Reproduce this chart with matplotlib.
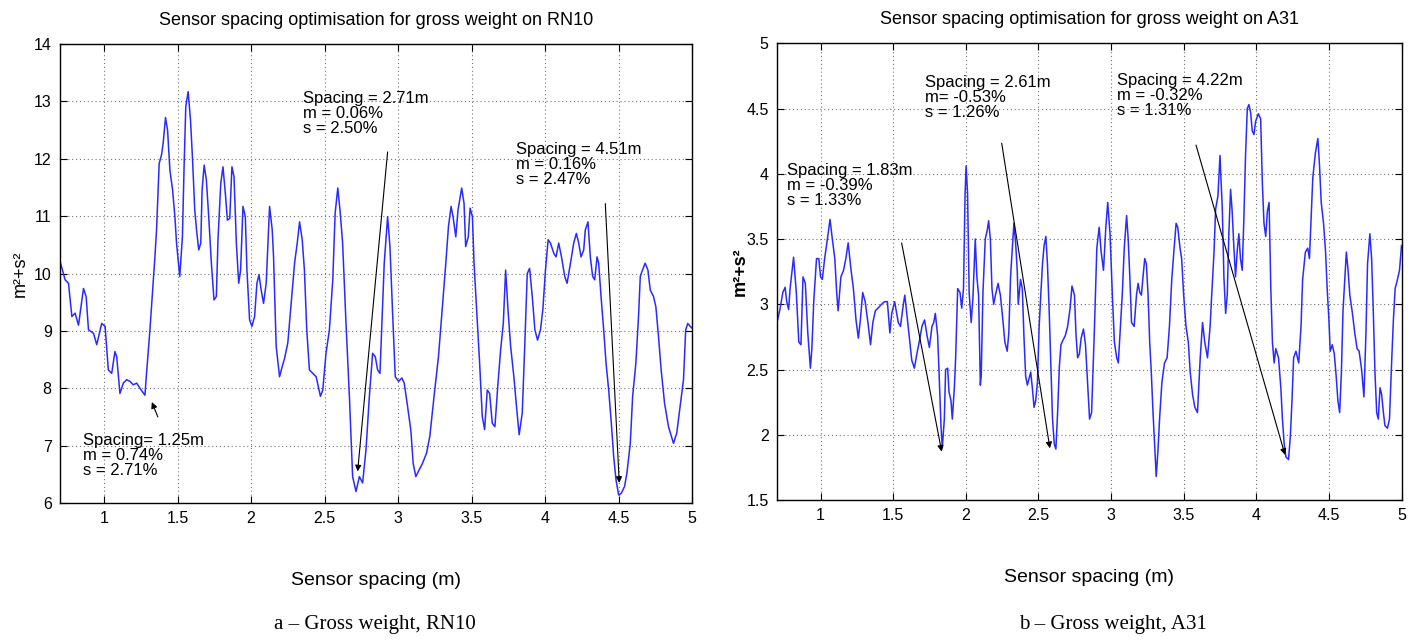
import matplotlib
matplotlib.use("Agg")
import matplotlib.pyplot as plt

# ---- data ----
x_rn10 = [0.701, 0.735, 0.758, 0.781, 0.803, 0.826, 0.860, 0.878, 0.894, 0.928,
          0.950, 0.984, 1.007, 1.029, 1.052, 1.074, 1.086, 1.108, 1.131, 1.154,
          1.176, 1.199, 1.222, 1.244, 1.278, 1.289, 1.312, 1.334, 1.346, 1.357,
          1.375, 1.391, 1.402, 1.418, 1.432, 1.448, 1.466, 1.482, 1.493, 1.515,
          1.533, 1.545, 1.556, 1.572, 1.588, 1.601, 1.617, 1.629, 1.644, 1.658,
          1.667, 1.681, 1.696, 1.712, 1.730, 1.748, 1.764, 1.775, 1.794, 1.809,
          1.827, 1.839, 1.855, 1.870, 1.884, 1.900, 1.916, 1.929, 1.945, 1.961,
          1.972, 1.990, 2.006, 2.024, 2.040, 2.054, 2.069, 2.085, 2.103, 2.126,
          2.144, 2.153, 2.171, 2.194, 2.212, 2.228, 2.250, 2.273, 2.296, 2.314,
          2.330, 2.348, 2.363, 2.379, 2.397, 2.420, 2.443, 2.472, 2.488, 2.510,
          2.533, 2.556, 2.572, 2.590, 2.605, 2.623, 2.646, 2.669, 2.691, 2.714,
          2.737, 2.759, 2.782, 2.805, 2.827, 2.845, 2.861, 2.877, 2.890, 2.906,
          2.929, 2.945, 2.963, 2.981, 3.004, 3.026, 3.042, 3.065, 3.087, 3.103,
          3.121, 3.144, 3.166, 3.194, 3.216, 3.245, 3.275, 3.302, 3.325, 3.343,
          3.361, 3.374, 3.393, 3.408, 3.433, 3.449, 3.460, 3.478, 3.490, 3.506,
          3.517, 3.539, 3.555, 3.573, 3.589, 3.607, 3.623, 3.641, 3.659, 3.680,
          3.698, 3.716, 3.732, 3.748, 3.766, 3.788, 3.806, 3.824, 3.845, 3.861,
          3.879, 3.895, 3.913, 3.931, 3.949, 3.969, 3.985, 4.003, 4.021, 4.037,
          4.060, 4.075, 4.093, 4.112, 4.134, 4.150, 4.173, 4.195, 4.213, 4.229,
          4.245, 4.263, 4.274, 4.292, 4.308, 4.324, 4.338, 4.354, 4.365, 4.381,
          4.399, 4.415, 4.433, 4.451, 4.467, 4.483, 4.501, 4.519, 4.541, 4.557,
          4.580, 4.596, 4.618, 4.636, 4.648, 4.663, 4.681, 4.700, 4.716, 4.738,
          4.754, 4.772, 4.790, 4.813, 4.840, 4.874, 4.896, 4.919, 4.942, 4.957,
          4.971, 4.987, 5.000]
y_rn10 = [10.21, 9.89, 9.83, 9.25, 9.31, 9.10, 9.74, 9.60, 9.02, 8.96,
          8.76, 9.13, 9.08, 8.32, 8.26, 8.64, 8.55, 7.91, 8.09, 8.15,
          8.12, 8.06, 8.09, 8.00, 7.88, 8.26, 9.02, 9.83, 10.29, 10.76,
          11.92, 12.07, 12.27, 12.72, 12.50, 11.80, 11.46, 10.99, 10.53, 9.95,
          10.64, 11.92, 12.91, 13.17, 12.68, 12.04, 11.11, 10.76, 10.41, 10.53,
          11.46, 11.89, 11.63, 10.99, 10.18, 9.54, 9.60, 10.59, 11.57, 11.86,
          11.34, 10.93, 10.96, 11.86, 11.69, 10.53, 9.83, 10.06, 11.17, 10.99,
          10.06, 9.19, 9.08, 9.25, 9.83, 9.98, 9.71, 9.48, 9.83, 11.17,
          10.76, 10.29, 8.73, 8.20, 8.38, 8.52, 8.79, 9.48, 10.18, 10.53,
          10.90, 10.59, 10.06, 9.02, 8.32, 8.26, 8.20, 7.86, 7.97, 8.61,
          9.02, 9.89, 11.05, 11.49, 11.11, 10.53, 9.13, 7.86, 6.46, 6.20,
          6.46, 6.35, 6.93, 7.86, 8.61, 8.55, 8.32, 8.26, 9.13, 10.18,
          10.99, 10.47, 9.31, 8.20, 8.12, 8.18, 8.09, 7.68, 7.27, 6.69,
          6.46, 6.58, 6.69, 6.87, 7.16, 7.86, 8.55, 9.42, 10.18, 10.82,
          11.17, 10.99, 10.64, 11.11, 11.49, 11.22, 10.47, 10.64, 11.14, 10.99,
          10.18, 9.19, 8.44, 7.51, 7.28, 7.97, 7.91, 7.39, 7.33, 8.09,
          8.67, 9.13, 10.06, 9.37, 8.73, 8.20, 7.68, 7.19, 7.57, 8.67,
          10.00, 10.09, 9.60, 9.02, 8.84, 9.02, 9.37, 10.06, 10.59, 10.53,
          10.35, 10.29, 10.53, 10.29, 9.95, 9.83, 10.18, 10.53, 10.70, 10.53,
          10.29, 10.41, 10.76, 10.90, 10.29, 9.95, 9.89, 10.29, 10.18, 9.60,
          9.02, 8.44, 7.97, 7.39, 6.81, 6.40, 6.14, 6.17, 6.29, 6.52,
          7.04, 7.86, 8.44, 9.25, 9.95, 10.06, 10.18, 10.06, 9.71, 9.60,
          9.42, 8.90, 8.32, 7.74, 7.33, 7.04, 7.22, 7.68, 8.15, 9.02,
          9.13, 9.08, 9.05]

x_a31 = [0.700, 0.720, 0.740, 0.756, 0.767, 0.780, 0.790, 0.814, 0.833, 0.850,
         0.865, 0.879, 0.895, 0.912, 0.930, 0.940, 0.953, 0.972, 0.988, 1.000,
         1.012, 1.028, 1.047, 1.065, 1.081, 1.098, 1.112, 1.121, 1.140, 1.158,
         1.174, 1.190, 1.210, 1.226, 1.244, 1.260, 1.274, 1.290, 1.307, 1.326,
         1.344, 1.360, 1.377, 1.395, 1.420, 1.440, 1.460, 1.477, 1.490, 1.510,
         1.535, 1.550, 1.570, 1.580, 1.600, 1.616, 1.628, 1.646, 1.663, 1.679,
         1.698, 1.716, 1.733, 1.749, 1.767, 1.779, 1.790, 1.806, 1.815, 1.829,
         1.838, 1.852, 1.861, 1.875, 1.884, 1.898, 1.907, 1.921, 1.930, 1.944,
         1.960, 1.972, 1.984, 1.995, 2.002, 2.012, 2.023, 2.037, 2.049, 2.065,
         2.076, 2.088, 2.100, 2.106, 2.118, 2.134, 2.148, 2.157, 2.169, 2.180,
         2.192, 2.204, 2.222, 2.238, 2.255, 2.269, 2.285, 2.296, 2.308, 2.319,
         2.331, 2.343, 2.354, 2.361, 2.377, 2.389, 2.400, 2.412, 2.424, 2.435,
         2.447, 2.458, 2.470, 2.481, 2.493, 2.505, 2.516, 2.528, 2.539, 2.551,
         2.562, 2.574, 2.586, 2.597, 2.609, 2.620, 2.632, 2.644, 2.655, 2.667,
         2.685, 2.701, 2.718, 2.731, 2.748, 2.759, 2.770, 2.782, 2.794, 2.810,
         2.824, 2.840, 2.852, 2.866, 2.886, 2.902, 2.918, 2.932, 2.948, 2.964,
         2.977, 2.993, 3.009, 3.023, 3.039, 3.050, 3.061, 3.077, 3.091, 3.107,
         3.118, 3.130, 3.141, 3.159, 3.175, 3.186, 3.198, 3.209, 3.220, 3.232,
         3.243, 3.255, 3.266, 3.277, 3.289, 3.300, 3.311, 3.323, 3.334, 3.350,
         3.368, 3.386, 3.402, 3.418, 3.432, 3.448, 3.459, 3.475, 3.486, 3.500,
         3.516, 3.532, 3.545, 3.561, 3.577, 3.595, 3.614, 3.630, 3.645, 3.664,
         3.682, 3.693, 3.709, 3.720, 3.736, 3.750, 3.766, 3.777, 3.789, 3.800,
         3.811, 3.823, 3.834, 3.845, 3.857, 3.868, 3.880, 3.891, 3.903, 3.914,
         3.926, 3.938, 3.949, 3.961, 3.972, 3.984, 3.995, 4.014, 4.030, 4.042,
         4.053, 4.065, 4.076, 4.088, 4.100, 4.111, 4.123, 4.134, 4.153, 4.169,
         4.180, 4.192, 4.204, 4.222, 4.234, 4.245, 4.257, 4.273, 4.292, 4.308,
         4.319, 4.338, 4.354, 4.366, 4.377, 4.389, 4.407, 4.424, 4.435, 4.447,
         4.463, 4.477, 4.488, 4.500, 4.509, 4.523, 4.537, 4.550, 4.562, 4.574,
         4.586, 4.597, 4.609, 4.620, 4.632, 4.644, 4.662, 4.678, 4.694, 4.708,
         4.725, 4.741, 4.755, 4.766, 4.782, 4.794, 4.806, 4.817, 4.829, 4.840,
         4.852, 4.863, 4.875, 4.886, 4.903, 4.917, 4.933, 4.944, 4.956, 4.972,
         4.986, 5.000]
y_a31 = [2.86, 2.96, 3.09, 3.13, 3.02, 2.96, 3.12, 3.36, 3.09, 2.71,
         2.69, 3.21, 3.16, 2.78, 2.51, 2.66, 3.02, 3.35, 3.35, 3.21,
         3.19, 3.35, 3.50, 3.65, 3.50, 3.35, 3.07, 2.95, 3.21, 3.26,
         3.35, 3.47, 3.26, 3.12, 2.88, 2.74, 2.88, 3.09, 3.02, 2.86,
         2.69, 2.86, 2.95, 2.97, 3.00, 3.02, 3.02, 2.78, 2.93, 3.02,
         2.86, 2.83, 3.00, 3.07, 2.86, 2.69, 2.57, 2.51, 2.62, 2.71,
         2.83, 2.88, 2.76, 2.67, 2.83, 2.86, 2.93, 2.76, 2.50, 2.07,
         1.90, 2.12, 2.50, 2.51, 2.33, 2.26, 2.12, 2.36, 2.59, 3.12,
         3.09, 2.97, 3.12, 3.85, 4.06, 3.85, 3.09, 2.86, 3.05, 3.50,
         3.21, 3.07, 2.38, 2.45, 3.09, 3.50, 3.57, 3.64, 3.50, 3.12,
         3.00, 3.07, 3.16, 3.07, 2.88, 2.71, 2.64, 2.78, 3.21, 3.40,
         3.62, 3.47, 3.26, 3.00, 3.19, 3.12, 2.76, 2.45, 2.38, 2.43,
         2.48, 2.36, 2.21, 2.26, 2.40, 2.83, 3.07, 3.31, 3.45, 3.52,
         3.31, 2.95, 2.52, 2.12, 1.93, 1.89, 2.17, 2.52, 2.69, 2.72,
         2.76, 2.83, 2.97, 3.14, 3.07, 2.76, 2.59, 2.62, 2.74, 2.81,
         2.69, 2.36, 2.12, 2.17, 2.83, 3.43, 3.59, 3.40, 3.26, 3.59,
         3.78, 3.54, 3.07, 2.71, 2.59, 2.55, 2.76, 3.07, 3.43, 3.68,
         3.50, 3.19, 2.86, 2.83, 3.07, 3.16, 3.09, 3.07, 3.21, 3.35,
         3.31, 3.07, 2.71, 2.48, 2.17, 1.93, 1.68, 1.88, 2.12, 2.40,
         2.55, 2.59, 2.83, 3.19, 3.40, 3.62, 3.59, 3.43, 3.35, 3.07,
         2.83, 2.71, 2.48, 2.31, 2.21, 2.17, 2.59, 2.86, 2.71, 2.59,
         2.83, 3.07, 3.40, 3.73, 3.83, 4.14, 3.73, 3.21, 2.93, 3.07,
         3.54, 3.88, 3.71, 3.45, 3.21, 3.40, 3.54, 3.35, 3.26, 3.64,
         4.14, 4.50, 4.53, 4.47, 4.33, 4.30, 4.40, 4.46, 4.42, 3.92,
         3.62, 3.52, 3.71, 3.78, 3.12, 2.71, 2.55, 2.66, 2.59, 2.36,
         2.12, 1.93, 1.83, 1.81, 1.98, 2.24, 2.59, 2.64, 2.55, 2.83,
         3.19, 3.40, 3.43, 3.35, 3.64, 3.97, 4.16, 4.27, 4.07, 3.78,
         3.62, 3.40, 3.12, 2.88, 2.64, 2.69, 2.62, 2.45, 2.26, 2.17,
         2.48, 2.95, 3.19, 3.40, 3.26, 3.07, 2.93, 2.78, 2.66, 2.64,
         2.50, 2.29, 2.78, 3.31, 3.54, 3.35, 2.93, 2.48, 2.17, 2.12,
         2.36, 2.31, 2.17, 2.07, 2.05, 2.12, 2.59, 2.88, 3.12, 3.19,
         3.26, 3.45]

# annotations: (text, text x, text top y, arrow tail, arrow head)
notes_rn10 = [
    ("Spacing= 1.25m\nm = 0.74%\ns = 2.71%", 0.86, 7.22, (1.366, 7.50), (1.325, 7.76)),
    ("Spacing = 2.71m\nm = 0.06%\ns = 2.50%", 2.35, 13.18, (2.929, 12.12), (2.725, 6.55)),
    ("Spacing = 4.51m\nm = 0.16%\ns = 2.47%", 3.80, 12.30, (4.41, 11.22), (4.505, 6.35)),
]
notes_a31 = [
    ("Spacing = 1.83m\nm = -0.39%\ns = 1.33%", 0.766, 4.08, (1.558, 3.47), (1.834, 1.87)),
    ("Spacing = 2.61m\nm= -0.53%\ns = 1.26%", 1.719, 4.757, (2.247, 4.234), (2.579, 1.896)),
    ("Spacing = 4.22m\nm = -0.32%\ns = 1.31%", 3.039, 4.77, (3.585, 4.22), (4.198, 1.845)),
]

xticks = [1, 1.5, 2, 2.5, 3, 3.5, 4, 4.5, 5]
xtick_labels = ["1", "1.5", "2", "2.5", "3", "3.5", "4", "4.5", "5"]
yticks_rn10 = [6, 7, 8, 9, 10, 11, 12, 13, 14]
yticks_a31 = [1.5, 2, 2.5, 3, 3.5, 4, 4.5, 5]
ytick_labels_a31 = ["1.5", "2", "2.5", "3", "3.5", "4", "4.5", "5"]

plt.rcParams["font.family"] = ["Liberation Sans", "DejaVu Sans"]

LINE = "#2a2aff"


def style_axes(ax, ylim, yticks, ylabels, title, ylabel, ybold):
    ax.set_xlim(0.7, 5)
    ax.set_ylim(*ylim)
    ax.set_xticks(xticks)
    ax.set_xticklabels(xtick_labels)
    ax.set_yticks(yticks)
    ax.set_yticklabels(ylabels)
    ax.grid(True, color="0.45", linestyle=(0, (1, 2.5)), linewidth=0.8)
    ax.tick_params(direction="in", top=True, right=True, length=5,
                   labelsize=11.5, pad=6)
    for sp in ax.spines.values():
        sp.set_linewidth(1.0)
    ax.set_title(title, fontsize=13, pad=14)
    ax.set_xlabel("Sensor spacing (m)", fontsize=14)
    ax.xaxis.set_label_coords(0.5, -0.15)
    ax.set_ylabel(ylabel, fontsize=13, fontweight="bold" if ybold else "normal")


def draw_notes(ax, notes):
    for txt, tx, ty, tail, head in notes:
        ax.text(tx, ty, txt, fontsize=12, va="top", ha="left", linespacing=1.0)
        ax.annotate("", xy=head, xytext=tail,
                    arrowprops=dict(arrowstyle="-|>", color="k", lw=0.8,
                                    mutation_scale=9, shrinkA=0, shrinkB=0))


fig = plt.figure(figsize=(14.21, 6.44), dpi=100)

ax1 = fig.add_axes([0.0422, 0.2189, 0.4448, 0.7127])
ax1.plot(x_rn10, y_rn10, color=LINE, lw=1.1)
style_axes(ax1, (6, 14), yticks_rn10, [str(v) for v in yticks_rn10],
           "Sensor spacing optimisation for gross weight on RN10", "m²+s²", False)
ax1.yaxis.set_label_coords(-0.05, 0.5)
draw_notes(ax1, notes_rn10)

ax2 = fig.add_axes([0.5468, 0.2236, 0.4395, 0.7092])
ax2.plot(x_a31, y_a31, color=LINE, lw=1.1)
style_axes(ax2, (1.5, 5), yticks_a31, ytick_labels_a31,
           "Sensor spacing optimisation for gross weight on A31", "m²+s²", True)
ax2.yaxis.set_label_coords(-0.046, 0.5)
draw_notes(ax2, notes_a31)

fig.text(375 / 1421, 1 - 625 / 644, "a – Gross weight, RN10",
         family="Liberation Serif", fontsize=15, ha="center", va="center")
fig.text(1113 / 1421, 1 - 625 / 644, "b – Gross weight, A31",
         family="Liberation Serif", fontsize=15, ha="center", va="center")

fig.savefig("out.png", dpi=100)
